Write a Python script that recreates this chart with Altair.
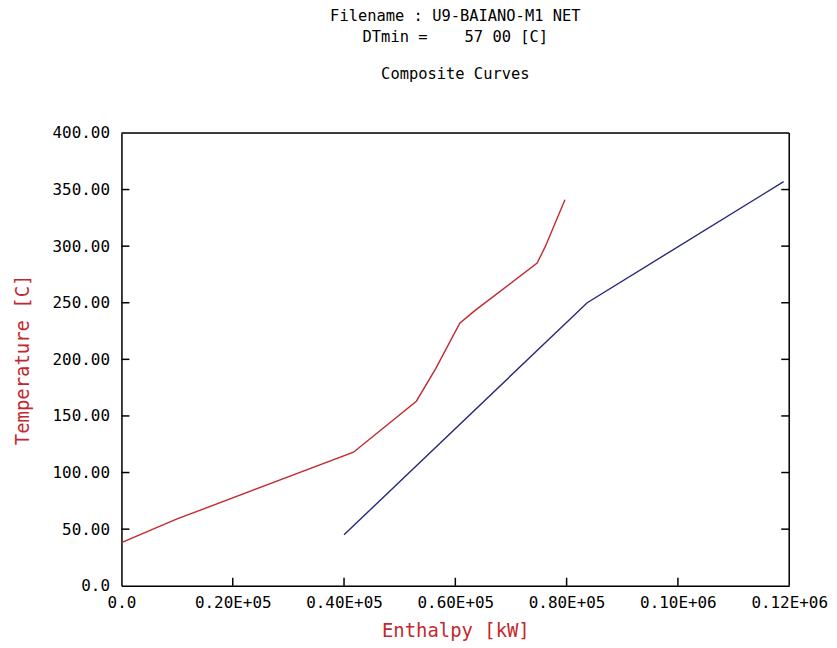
import altair as alt
import pandas as pd

# Hot composite curve (red)
hot_enthalpy = [0, 10000, 41700, 53000, 56500, 60800, 63500, 74700, 76200, 79700]
hot_temp = [38, 59, 118, 163, 192, 232, 243, 285, 300, 341]

# Cold composite curve (blue)
cold_enthalpy = [40000, 83700, 119000]
cold_temp = [45, 250, 357]

x_ticks = [0, 20000, 40000, 60000, 80000, 100000, 120000]
x_tick_labels = ["0.0", "0.20E+05", "0.40E+05", "0.60E+05", "0.80E+05", "0.10E+06", "0.12E+06"]
y_ticks = [0, 50, 100, 150, 200, 250, 300, 350, 400]
y_tick_labels = ["0.0", "50.00", "100.00", "150.00", "200.00", "250.00", "300.00", "350.00", "400.00"]

title_lines = ["Filename : U9-BAIANO-M1 NET", "DTmin =\u00a0\u00a0\u00a0 57 00 [C]"]
subtitle = "Composite Curves"

RED = "#c4282e"
BLUE = "#28287a"
FONT = "DejaVu Sans Mono"
W, H = 671, 455

hot = pd.DataFrame({"h": hot_enthalpy, "t": hot_temp, "i": list(range(len(hot_enthalpy)))})
cold = pd.DataFrame({"h": cold_enthalpy, "t": cold_temp, "i": list(range(len(cold_enthalpy)))})
frame_df = pd.DataFrame({"k": [0]})

xs = alt.Scale(domain=[0, 120000], nice=False, zero=False)
ys = alt.Scale(domain=[0, 400], nice=False, zero=False)


def label_expr(vals, labels):
    arr_l = "[" + ",".join("'%s'" % l for l in labels) + "]"
    arr_v = "[" + ",".join(str(v) for v in vals) + "]"
    return "%s[indexof(%s, datum.value)]" % (arr_l, arr_v)


x_axis = alt.Axis(
    values=x_ticks, labelExpr=label_expr(x_ticks, x_tick_labels), ticks=False, grid=False,
    domain=True, domainColor="black", domainWidth=1.5,
    title="Enthalpy [kW]", titleColor=RED, titleFont=FONT, titleFontSize=19,
    titleFontWeight="normal", labelFont=FONT, labelFontSize=16, labelColor="black",
    labelPadding=9, titlePadding=11, labelFlush=False, labelOverlap=False,
)
y_axis = alt.Axis(
    values=y_ticks, labelExpr=label_expr(y_ticks, y_tick_labels), ticks=False, grid=False,
    domain=True, domainColor="black", domainWidth=1.5,
    title="Temperature [C]", titleColor=RED, titleFont=FONT, titleFontSize=19,
    titleFontWeight="normal", labelFont=FONT, labelFontSize=16, labelColor="black",
    labelPadding=12, titlePadding=20, labelFlush=False, labelOverlap=False,
)

hot_line = alt.Chart(hot).mark_line(color=RED, strokeWidth=1.4).encode(
    x=alt.X("h:Q", scale=xs, axis=x_axis),
    y=alt.Y("t:Q", scale=ys, axis=y_axis),
    order="i:Q",
)
cold_line = alt.Chart(cold).mark_line(color=BLUE, strokeWidth=1.4).encode(
    x=alt.X("h:Q", scale=xs),
    y=alt.Y("t:Q", scale=ys),
    order="i:Q",
)

xt = pd.DataFrame({"v": x_ticks[1:-1]})
yt = pd.DataFrame({"v": y_ticks[1:-1]})

bottom_ticks = alt.Chart(xt).mark_rule(color="black", strokeWidth=1.5).encode(
    x=alt.X("v:Q", scale=xs), y=alt.value(H), y2=alt.value(H - 8)
)
left_ticks = alt.Chart(yt).mark_rule(color="black", strokeWidth=1.5).encode(
    y=alt.Y("v:Q", scale=ys), x=alt.value(0), x2=alt.value(8)
)
right_ticks = alt.Chart(yt).mark_rule(color="black", strokeWidth=1.5).encode(
    y=alt.Y("v:Q", scale=ys), x=alt.value(W - 8), x2=alt.value(W)
)
right_border = alt.Chart(frame_df).mark_rule(color="black", strokeWidth=1.5).encode(
    x=alt.value(W), y=alt.value(0), y2=alt.value(H)
)
top_border = alt.Chart(frame_df).mark_rule(color="black", strokeWidth=1.5).encode(
    x=alt.value(0), x2=alt.value(W), y=alt.value(0)
)

chart = alt.layer(
    hot_line, cold_line, bottom_ticks, left_ticks, right_ticks, right_border, top_border
).properties(
    width=W,
    height=H,
    autosize=alt.AutoSizeParams(type="none"),
    padding={"left": 114, "top": 124, "right": 40, "bottom": 60},
    title=alt.TitleParams(
        text=title_lines, subtitle=subtitle, font=FONT, fontSize=15.5, fontWeight="normal",
        subtitleFont=FONT, subtitleFontSize=15.5, subtitleColor="black", color="black",
        anchor="middle", lineHeight=21, subtitleLineHeight=18, subtitlePadding=21, offset=43,
    ),
).configure_view(stroke=None).configure(background="white")

chart.save("out.html", embed_options={"renderer": "svg", "actions": False})
